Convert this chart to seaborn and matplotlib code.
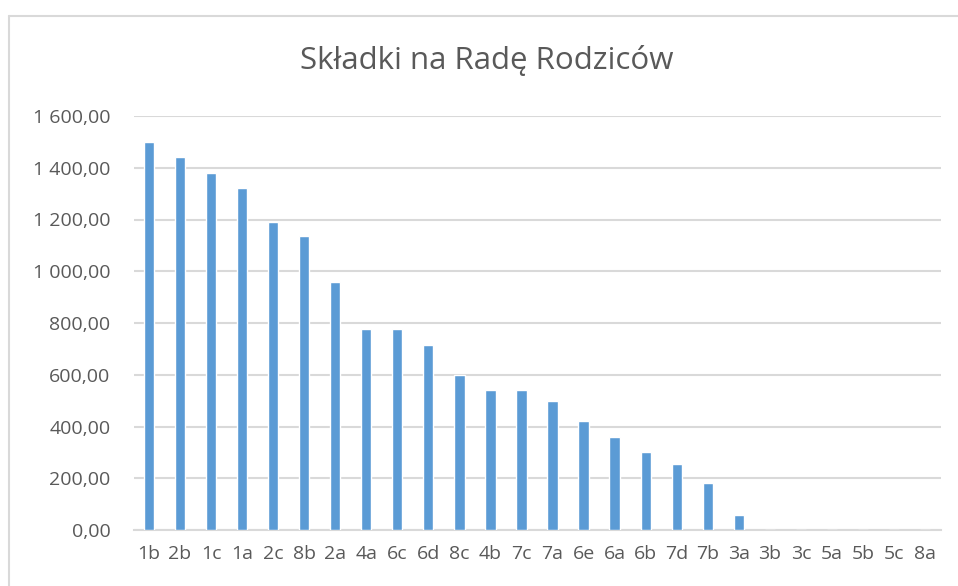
import pandas as pd
import seaborn as sns
import matplotlib.pyplot as plt
from matplotlib.lines import Line2D

# Data
klasy = ['1b', '2b', '1c', '1a', '2c', '8b', '2a', '4a', '6c', '6d', '8c', '4b', '7c',
         '7a', '6e', '6a', '6b', '7d', '7b', '3a', '3b', '3c', '5a', '5b', '5c', '8a']
skladki = [1500, 1440, 1380, 1320, 1190, 1135, 960, 775, 775, 715, 600, 540, 540,
           500, 420, 360, 300, 255, 180, 58, 0, 0, 0, 0, 0, 0]
y_ticks = [0, 200, 400, 600, 800, 1000, 1200, 1400, 1600]

df = pd.DataFrame({'klasa': klasy, 'kwota': skladki})

sns.set_style("white")
plt.rcParams['font.family'] = ['Open Sans', 'DejaVu Sans']

text_col = '#595959'
grid_col = '#D9D9D9'

fig = plt.figure(figsize=(9.58, 5.86), dpi=100)
ax = fig.add_axes([133.5 / 958, 56 / 586, (940.5 - 133.5) / 958, 414 / 586])

sns.barplot(data=df, x='klasa', y='kwota', color='#5B9BD5', width=0.33,
            saturation=1, ax=ax, zorder=3)

ax.set_ylim(0, 1600)
ax.set_xlim(-0.5, len(klasy) - 0.5)
ax.set_yticks(y_ticks)


def fmt(v):
    s = f"{v:,.2f}".replace(',', ' ').replace('.', ',')
    return s


ax.set_yticklabels([fmt(v) for v in y_ticks])
ax.yaxis.grid(True, color=grid_col, linewidth=1.5, zorder=0)
ax.set_axisbelow(True)
for side in ['top', 'right', 'left']:
    ax.spines[side].set_visible(False)
ax.spines['bottom'].set_color(grid_col)
ax.spines['bottom'].set_linewidth(1.5)
ax.tick_params(axis='both', length=0, labelsize=14, colors=text_col)
ax.tick_params(axis='y', pad=16.5)
ax.tick_params(axis='x', pad=11)
ax.set_xlabel('')
ax.set_ylabel('')

fig.text(487 / 958, 1 - 61 / 586, 'Składki na Radę Rodziców', ha='center', va='center',
         fontsize=22.5, color=text_col)

# chart area border (cropped at right and bottom)
fig.add_artist(Line2D([8.5 / 958, 1], [1 - 15.5 / 586] * 2, color=grid_col, linewidth=1.5,
                      transform=fig.transFigure))
fig.add_artist(Line2D([8.5 / 958] * 2, [0, 1 - 15.5 / 586], color=grid_col, linewidth=1.5,
                      transform=fig.transFigure))

fig.savefig('out.png', dpi=100)
